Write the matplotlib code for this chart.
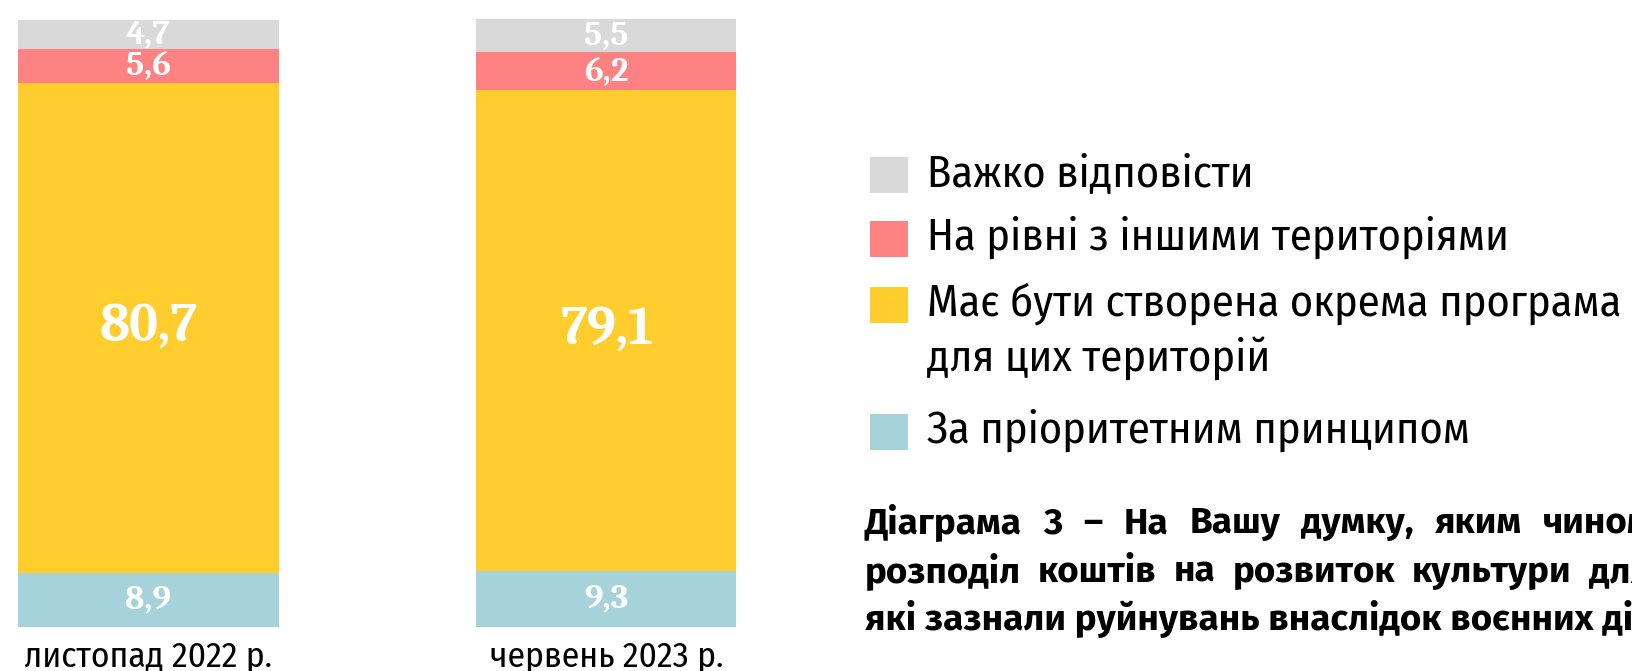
import matplotlib
matplotlib.use('Agg')
import matplotlib.pyplot as plt
from matplotlib.patches import Rectangle

# дані
periods = ['листопад 2022 р.', 'червень 2023 р.']
series = ['За пріоритетним принципом',
          'Має бути створена окрема програма\nдля цих територій',
          'На рівні з іншими територіями',
          'Важко відповісти']
priority = [8.9, 9.3]
separate = [80.7, 79.1]
equal = [5.6, 6.2]
hard = [4.7, 5.5]
values = [priority, separate, equal, hard]
colors = ['#A6D3D9', '#FFCD2E', '#FF8282', '#D9D9D9']

caption_lines = [
    'Діаграма 3 – На Вашу думку, яким чином має відбуватися',
    'розподіл коштів на розвиток культури для територій,',
    'які зазнали руйнувань внаслідок воєнних дій?',
]

SANS = ['Fira Sans Condensed', 'DejaVu Sans']
SERIF = ['Caladea', 'PT Serif', 'DejaVu Serif']
plt.rcParams['font.family'] = SANS

W, H = 1632, 671
fig = plt.figure(figsize=(W / 100, H / 100), dpi=100)

ax = fig.add_axes([18 / W, 1 - 627 / H, (279 - 18) / W * 2.75, (627 - 19) / H])
x = [0, 1]
bottom = [0, 0]
for vals, col in zip(values, colors):
    ax.bar(x, vals, width=0.57, bottom=bottom, color=col, linewidth=0)
    for xi, b, v in zip(x, bottom, vals):
        big = v > 50
        ax.text(xi, b + v / 2, f'{v:.1f}'.replace('.', ','), ha='center', va='center',
                color='white', fontweight='bold', family=SERIF, fontsize=39 if big else 25)
    bottom = [b + v for b, v in zip(bottom, vals)]

ax.set_xlim(-0.285, -0.285 + 0.57 * 2.75)
ax.set_ylim(0, max(bottom))
ax.set_xticks(x)
ax.set_xticklabels(periods, fontsize=25.5)
ax.tick_params(axis='x', length=0, pad=9)
ax.set_yticks([])
for s in ax.spines.values():
    s.set_visible(False)

# легенда вручну
leg_rows = [175, 239, 305, 432]
for lab, col, yc in zip(series[::-1], colors[::-1], leg_rows):
    fig.patches.append(Rectangle((870 / W, 1 - (yc + 18) / H), 38 / W, 36 / H,
                                 transform=fig.transFigure, color=col, linewidth=0))
    for i, ln in enumerate(lab.split('\n')):
        fig.text(927 / W, 1 - (yc + 11 + i * 55) / H, ln, ha='left', va='baseline',
                 fontsize=32)

# підпис діаграми (перші два рядки вирівняні по ширині)
renderer = fig.canvas.get_renderer()
cap_base = [533, 582, 630]
gaps = [21, 17, None]
cap_font = dict(ha='left', va='baseline', fontsize=26.5, fontweight='bold',
                family=['Fira Sans', 'DejaVu Sans'])
for ln, yb, gap in zip(caption_lines, cap_base, gaps):
    if gap is None:
        fig.text(865 / W, 1 - yb / H, ln, **cap_font)
        continue
    xp = 865
    for word in ln.split(' '):
        if xp > W:
            break
        t = fig.text(xp / W, 1 - yb / H, word, **cap_font)
        xp = t.get_window_extent(renderer).x1 + gap

fig.savefig('out.png', dpi=100)
